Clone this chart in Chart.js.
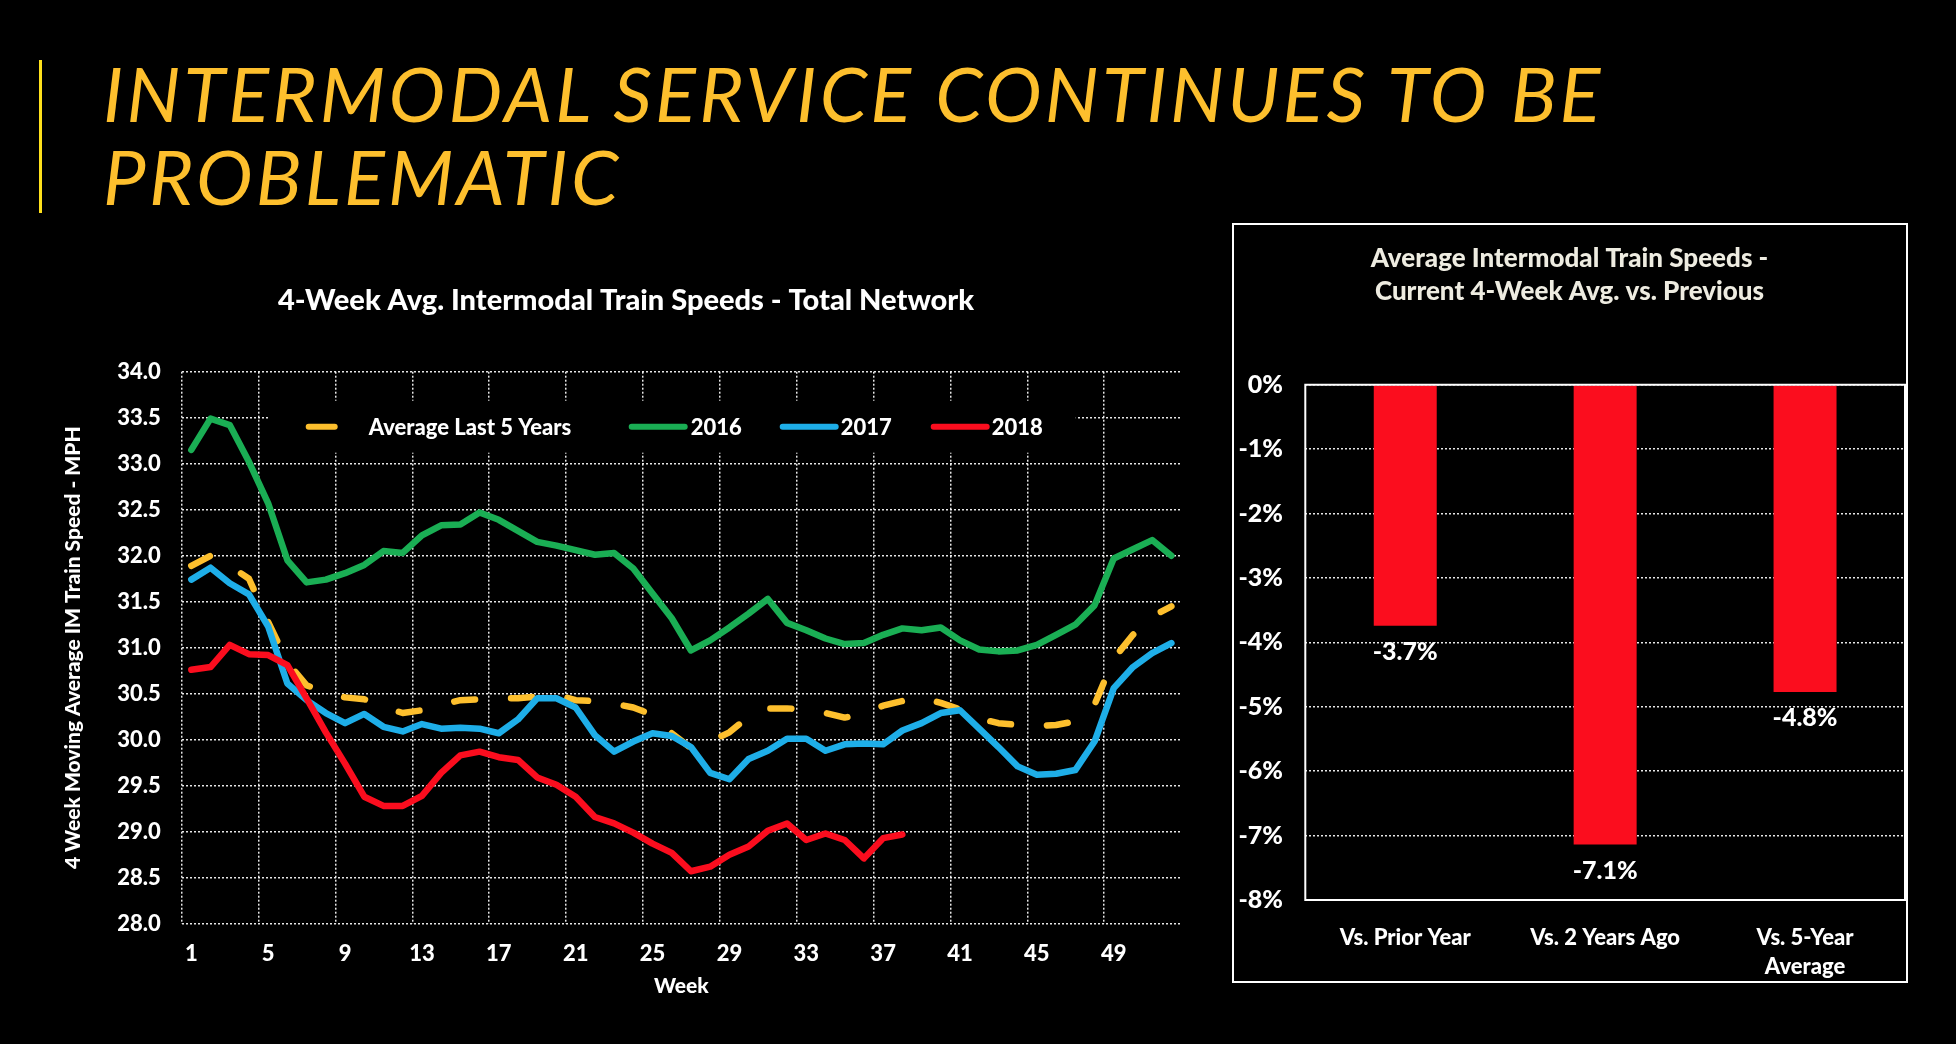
<!DOCTYPE html>
<html>
<head>
<meta charset="utf-8">
<script src="https://cdn.jsdelivr.net/npm/chart.js@4.4.1/dist/chart.umd.min.js"></script>
<style>
  html, body { margin: 0; padding: 0; background: #000; width: 1956px; height: 1044px; overflow: hidden; }
  #accent { position: absolute; left: 39px; top: 60px; width: 3px; height: 153px; background: #ffe11c; }
  .headline { position: absolute; left: 103px; margin: 0; font-family: Lato, sans-serif; font-style: italic; font-weight: 400;
              font-size: 76px; line-height: 76px; color: #fdbf2d; white-space: nowrap; }
  #speedWrap { position: absolute; left: 0; top: 0; width: 1200px; height: 1044px; }
  #cmpWrap { position: absolute; left: 1232px; top: 223px; width: 672px; height: 756px; border: 2px solid #fff; }
</style>
</head>
<body>
<div id="accent"></div>
<h1 class="headline" id="line1" style="top:55px">INTERMODAL SERVICE CONTINUES TO BE</h1>
<h1 class="headline" id="line2" style="top:138px">PROBLEMATIC</h1>
<div id="speedWrap"><canvas id="speedChart" width="1200" height="1044"></canvas></div>
<div id="cmpWrap"><canvas id="cmpChart" width="672" height="756"></canvas></div>

<script>
// ---- data: weekly 4-week moving average IM train speed (mph)
const weeks = Array.from({length: 52}, (_, i) => String(i + 1));

const avgLast5 = [31.89, 32.00, 31.89, 31.75, 31.28, 30.84, 30.59, 30.52, 30.46, 30.44,
  30.36, 30.29, 30.32, 30.38, 30.43, 30.44, 30.45, 30.45, 30.47, 30.49,
  30.43, 30.42, 30.39, 30.35, 30.27, 30.07, 29.91, 29.98, 30.08, 30.25,
  30.34, 30.34, 30.33, 30.29, 30.24, 30.28, 30.37, 30.42, 30.46, 30.40,
  30.33, 30.23, 30.18, 30.16, 30.15, 30.16, 30.20, 30.38, 30.88, 31.14,
  31.34, 31.45];

const speeds2016 = [33.15, 33.49, 33.42, 33.02, 32.57, 31.95, 31.71, 31.74, 31.81, 31.90,
  32.05, 32.03, 32.22, 32.33, 32.34, 32.47, 32.39, 32.27, 32.15, 32.11,
  32.06, 32.01, 32.03, 31.86, 31.59, 31.32, 30.97, 31.08, 31.22, 31.37,
  31.53, 31.27, 31.19, 31.10, 31.04, 31.05, 31.14, 31.21, 31.19, 31.22,
  31.08, 30.98, 30.96, 30.97, 31.03, 31.14, 31.25, 31.46, 31.97, 32.07,
  32.17, 32.00];

const speeds2017 = [31.74, 31.87, 31.70, 31.58, 31.23, 30.61, 30.43, 30.29, 30.18, 30.28,
  30.14, 30.09, 30.17, 30.12, 30.13, 30.12, 30.07, 30.22, 30.45, 30.45,
  30.35, 30.05, 29.87, 29.98, 30.07, 30.04, 29.92, 29.64, 29.57, 29.79,
  29.88, 30.01, 30.01, 29.88, 29.95, 29.96, 29.95, 30.10, 30.18, 30.29,
  30.32, 30.12, 29.92, 29.71, 29.62, 29.63, 29.67, 29.98, 30.56, 30.79,
  30.94, 31.05];

const speeds2018 = [30.76, 30.79, 31.03, 30.93, 30.92, 30.81, 30.45, 30.08, 29.74, 29.38,
  29.28, 29.28, 29.39, 29.64, 29.83, 29.87, 29.81, 29.78, 29.59, 29.51,
  29.38, 29.16, 29.09, 28.99, 28.87, 28.77, 28.57, 28.62, 28.75, 28.84,
  29.01, 29.09, 28.91, 28.98, 28.91, 28.71, 28.93, 28.97];

// ---- data: current 4-week avg vs previous periods (%)
const cmpCategories = [['Vs. Prior Year'], ['Vs. 2 Years Ago'], ['Vs. 5-Year', 'Average']];
const cmpValues = [-3.74, -7.14, -4.77];

// fit the headline to the slide width
(function () {
  const ctx = document.createElement('canvas').getContext('2d');
  ctx.font = 'italic 400 76px Lato';
  const l1 = document.getElementById('line1');
  const w = ctx.measureText(l1.textContent).width;
  const spacing = (1502 - w) / (l1.textContent.length - 1);
  document.querySelectorAll('.headline').forEach(el => el.style.letterSpacing = spacing + 'px');
})();

Chart.defaults.font.family = 'Lato, sans-serif';
Chart.defaults.font.weight = '900';
Chart.defaults.color = '#fff';

const GRID = 'rgba(255,255,255,0.9)';
const YELLOW = '#fdbf2d', GREEN = '#1aae54', BLUE = '#1eaee8', RED = '#fb0d1e';

// legend drawn inside the plot over a black box (Excel style)
const insideLegend = {
  id: 'insideLegend',
  beforeDatasetsDraw(chart) {
    const {ctx, chartArea: ca} = chart;
    ctx.save();
    ctx.fillStyle = '#000';
    ctx.fillRect(ca.left + 88, ca.top + 29, 806, 52);
    ctx.font = '900 22px Lato, sans-serif';
    ctx.textBaseline = 'middle';
    ctx.lineCap = 'round';
    ctx.lineWidth = 6;
    const y = ca.top + 55;
    const slots = [[124, 32, 63], [447, 59, 62], [598, 59, 61], [749, 59, 61]];
    [3, 2, 1, 0].forEach((di, k) => {
      const ds = chart.data.datasets[di];
      const [off, len, txt] = slots[k];
      const x = ca.left + off;
      ctx.strokeStyle = ds.borderColor;
      ctx.beginPath();
      ctx.moveTo(x + 3, y);
      ctx.lineTo(x + len - 3, y);
      ctx.stroke();
      ctx.fillStyle = '#fff';
      ctx.fillText(ds.label, x + txt, y + 1);
    });
    ctx.restore();
  }
};

new Chart(document.getElementById('speedChart'), {
  type: 'line',
  data: {
    labels: weeks,
    datasets: [
      {label: '2018', data: speeds2018, borderColor: RED},
      {label: '2017', data: speeds2017, borderColor: BLUE},
      {label: '2016', data: speeds2016, borderColor: GREEN},
      {label: 'Average Last 5 Years', data: avgLast5, borderColor: YELLOW, borderDash: [21, 36]}
    ]
  },
  options: {
    responsive: false,
    animation: false,
    layout: {padding: {left: 71, right: 19, top: 0, bottom: 40.3}},
    elements: {
      line: {borderWidth: 6.5, tension: 0, borderCapStyle: 'round', borderJoinStyle: 'round', fill: false},
      point: {radius: 0, hoverRadius: 0}
    },
    plugins: {
      legend: {display: false},
      tooltip: {enabled: false},
      title: {
        display: true,
        text: '4-Week Avg. Intermodal Train Speeds - Total Network',
        color: '#fff',
        font: {size: 29, weight: '900'},
        padding: {top: 283.6, bottom: 53.3}
      }
    },
    scales: {
      x: {
        offset: true,
        afterFit: s => { s.height = 80; },
        grid: {offset: true, drawTicks: false, lineWidth: 1.5,
               color: c => c.index % 4 === 0 ? GRID : 'transparent'},
        border: {display: false, dash: [2, 2]},
        ticks: {
          autoSkip: false, maxRotation: 0, padding: 16.7,
          font: {size: 22, weight: '900'},
          callback: function (v, i) { return i % 4 === 0 ? this.getLabelForValue(v) : ''; }
        },
        title: {display: true, text: 'Week', font: {size: 21, weight: '900'}, padding: {top: 0, bottom: 4.7}}
      },
      y: {
        min: 28, max: 34,
        afterFit: s => { s.width = 110.7; },
        grid: {drawTicks: false, lineWidth: 1.5, color: GRID},
        border: {display: false, dash: [2, 2]},
        ticks: {stepSize: 0.5, padding: 21, font: {size: 22, weight: '900'},
                callback: v => Number(v).toFixed(1)},
        title: {display: true, text: '4 Week Moving Average IM Train Speed - MPH',
                font: {size: 21, weight: '900', lineHeight: '4px'}, padding: {top: 0, bottom: 0}}
      }
    }
  },
  plugins: [insideLegend]
});

// bar value labels + solid plot frame
const barExtras = {
  id: 'barExtras',
  afterDatasetsDraw(chart) {
    const {ctx, chartArea: ca} = chart;
    ctx.save();
    ctx.fillStyle = '#fff';
    ctx.font = '900 25px Lato, sans-serif';
    ctx.textAlign = 'center';
    ctx.textBaseline = 'middle';
    chart.getDatasetMeta(0).data.forEach((bar, i) => {
      ctx.fillText(cmpValues[i].toFixed(1) + '%', bar.x, bar.y + 26);
    });
    ctx.strokeStyle = '#fff';
    ctx.lineWidth = 2;
    ctx.strokeRect(ca.left, ca.top, ca.right - ca.left, ca.bottom - ca.top);
    ctx.restore();
  }
};

new Chart(document.getElementById('cmpChart'), {
  type: 'bar',
  data: {
    labels: cmpCategories,
    datasets: [{data: cmpValues, backgroundColor: RED, barPercentage: 0.315, categoryPercentage: 1}]
  },
  options: {
    responsive: false,
    animation: false,
    layout: {padding: {left: 0, right: 1, top: 0, bottom: 0}},
    plugins: {
      legend: {display: false},
      tooltip: {enabled: false},
      title: {
        display: true,
        text: ['Average Intermodal Train Speeds -', 'Current 4-Week Avg. vs. Previous'],
        color: '#eeece1',
        font: {size: 26, weight: '900', lineHeight: 1.25},
        padding: {top: 17.75, bottom: 77.0}
      }
    },
    scales: {
      x: {
        afterFit: s => { s.height = 81; },
        grid: {display: false},
        border: {display: false},
        ticks: {padding: 15.7, font: {size: 22, weight: '900', lineHeight: 1.3}}
      },
      y: {
        min: -8, max: 0,
        afterFit: s => { s.width = 71.3; },
        grid: {drawTicks: false, lineWidth: 1.5, color: GRID},
        border: {display: false, dash: [2, 2]},
        ticks: {stepSize: 1, padding: 22.3, font: {size: 25, weight: '900'}, callback: v => v + '%'}
      }
    }
  },
  plugins: [barExtras]
});
</script>
</body>
</html>
